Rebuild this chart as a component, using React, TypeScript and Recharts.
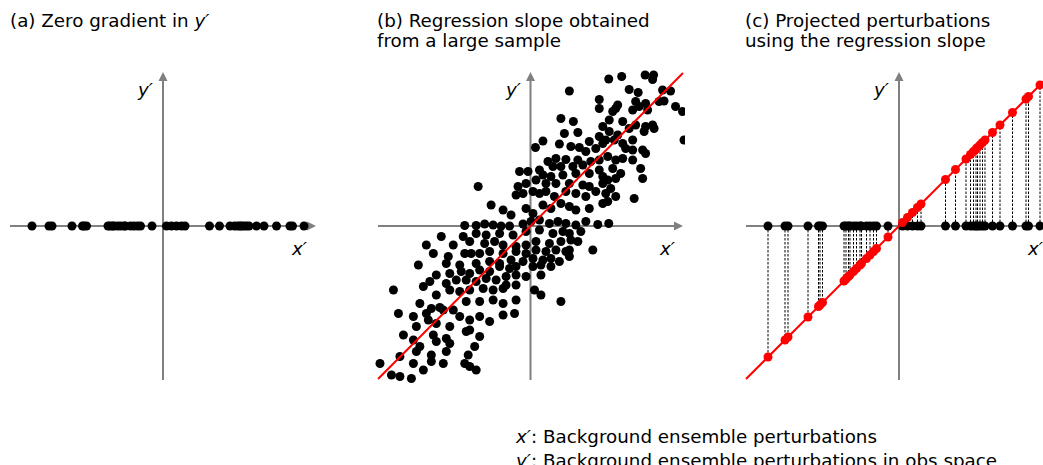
import React from 'react';
import { ScatterChart, Scatter, XAxis, YAxis } from 'recharts';

// x' values of the ensemble perturbations (panels a and c)
const perturbX = [
  -2.62, -2.28, -2.22, -1.82, -1.61, -1.58, -1.53,
  -1.1, -1.06, -1.01, -0.98, -0.91, -0.85, -0.78, -0.75, -0.65, -0.58, -0.51, -0.45,
  -0.22, 0.07, 0.17, 0.27, 0.37, 0.44,
  0.93, 1.13, 1.34, 1.43, 1.49, 1.54, 1.57, 1.62, 1.67, 1.72, 1.87, 2.02, 2.27, 2.54, 2.59, 2.82,
];

// regression slope obtained from the large sample
const slope = 1.0;

// large sample (panel b): [x', y']
const sampleB: [number, number][] = [
  [1.57, 2.94], [1.83, 2.99], [2.3, 3.02], [2.45, 2.93], [2.47, 3.02], [0.78, 2.7], [1.98, 2.73],
  [2.16, 2.67], [2.65, 2.72], [2.81, 2.7], [1.38, 2.53], [1.75, 2.42], [2.11, 2.49], [2.31, 2.45],
  [2.58, 2.49], [2.68, 2.5], [1.38, 2.35], [1.65, 2.29], [1.71, 2.35], [2.05, 2.32], [2.18, 2.39],
  [2.35, 2.32], [2.91, 2.39], [3.05, 2.29], [1.58, 2.12], [1.85, 2.09], [1.45, 1.99], [1.98, 1.95],
  [2.11, 2.02], [2.31, 1.99], [2.48, 1.95], [2.28, 1.89], [2.45, 2.02], [0.61, 2.15], [0.86, 2.09],
  [1.58, 1.89], [1.75, 1.82], [1.38, 1.79], [1.51, 1.72], [1.68, 1.72], [1.85, 1.65], [2.05, 1.72],
  [1.91, 1.55], [2.25, 1.52], [2.31, 1.45], [2.05, 1.52], [0.68, 1.85], [0.95, 1.87], [1.18, 1.69],
  [0.25, 1.7], [0.1, 1.57], [0.58, 1.64], [0.81, 1.59], [0.98, 1.57], [1.11, 1.49], [1.31, 1.55],
  [1.45, 1.65], [3.08, 1.72], [0.51, 1.35], [0.71, 1.33], [0.35, 1.29], [0.18, 1.12], [0.45, 1.19],
  [0.61, 1.19], [0.85, 1.19], [0.95, 1.32], [1.05, 1.22], [1.21, 1.29], [1.38, 1.32], [1.55, 1.39],
  [1.71, 1.32], [1.85, 1.35], [2.05, 1.32], [-0.22, 1.09], [-0.05, 1.09], [0.25, 1.02], [0.41, 0.99],
  [0.65, 1.02], [0.91, 1.05], [1.18, 1.05], [1.38, 1.12], [1.65, 1.15], [1.81, 1.05], [1.45, 0.99],
  [2.21, 1.15], [2.25, 0.95], [-1.05, 0.79], [-0.25, 0.79], [-0.09, 0.85], [0.11, 0.92], [0.31, 0.85],
  [0.51, 0.85], [0.78, 0.85], [1.05, 0.82], [1.18, 0.79], [1.45, 0.85], [1.55, 0.92], [1.71, 0.95],
  [1.61, 0.75], [-0.29, 0.62], [-0.15, 0.65], [0.05, 0.69], [0.18, 0.65], [0.31, 0.69], [0.48, 0.59],
  [0.71, 0.69], [0.91, 0.65], [1.11, 0.59], [1.31, 0.69], [1.51, 0.65], [1.71, 0.59], [2.08, 0.55],
  [-0.79, 0.42], [-0.55, 0.32], [-0.39, 0.22], [-0.09, 0.35], [0.05, 0.25], [0.25, 0.42], [0.41, 0.35],
  [0.61, 0.45], [0.78, 0.39], [0.91, 0.32], [1.18, 0.35], [1.45, 0.45], [1.55, 0.49], [-1.32, 0.01],
  [-1.09, 0.01], [-0.92, 0.04], [-0.75, 0.02], [-0.59, 0.0], [-0.42, 0.0], [-0.15, 0.04], [0.01, 0.09],
  [0.18, 0.12], [0.38, 0.05], [0.55, 0.09], [0.71, 0.05], [0.91, 0.02], [1.11, 0.09], [1.35, 0.03],
  [1.57, 0.05],
  [-1.79, -0.21], [-1.35, -0.21], [-1.09, -0.15], [-0.89, -0.18], [-0.62, -0.15], [-0.35, -0.18],
  [-0.09, -0.11], [0.18, -0.08], [0.45, -0.15], [0.65, -0.11], [0.78, -0.15], [1.01, -0.11],
  [-2.09, -0.38], [-1.55, -0.38], [-1.22, -0.31], [-0.92, -0.35], [-0.72, -0.31], [-0.55, -0.38],
  [-0.29, -0.41], [-0.09, -0.38], [0.11, -0.31], [0.38, -0.35], [0.61, -0.31], [0.81, -0.28],
  [0.95, -0.31], [-1.95, -0.55], [-1.65, -0.61], [-1.32, -0.55], [-1.19, -0.55], [-1.02, -0.55],
  [-0.82, -0.51], [-0.55, -0.55], [-0.29, -0.51], [-0.09, -0.55], [0.11, -0.48], [0.31, -0.51],
  [0.51, -0.48], [0.71, -0.51], [0.78, -0.48], [1.25, -0.48], [-2.25, -0.78], [-1.69, -0.75],
  [-1.42, -0.78], [-1.09, -0.75], [-0.82, -0.71], [-0.62, -0.75], [-0.39, -0.68], [-0.15, -0.71],
  [0.05, -0.65], [0.25, -0.68], [0.41, -0.65], [0.58, -0.71], [0.78, -0.61], [-2.02, -1.11],
  [-1.89, -0.98], [-1.62, -0.95], [-1.39, -0.91], [-1.22, -0.95], [-1.02, -0.88], [-0.82, -0.91],
  [-0.62, -0.81], [-0.42, -0.85], [-0.29, -0.81], [0.05, -0.81], [0.21, -0.78], [0.41, -0.81],
  [-2.75, -1.28], [-2.15, -1.21], [-1.69, -1.15], [-1.49, -1.08], [-1.29, -1.08], [-1.09, -1.11],
  [-0.89, -1.05], [-0.69, -1.08], [-0.49, -1.01], [-0.29, -0.98], [-0.09, -1.01], [0.21, -0.98],
  [-1.89, -1.38], [-1.62, -1.28], [-1.42, -1.31], [-1.22, -1.28], [-0.95, -1.25], [-0.75, -1.28],
  [-0.55, -1.25], [-0.49, -1.18], [-0.29, -1.18], [0.08, -1.28], [0.21, -1.38], [-2.22, -1.55],
  [-1.99, -1.65], [-1.82, -1.63], [-1.55, -1.68], [-1.29, -1.51], [-1.02, -1.51], [-0.75, -1.48],
  [-0.55, -1.55], [-0.29, -1.48], [0.61, -1.51], [-2.65, -1.75], [-2.35, -1.81], [-2.09, -1.75],
  [-1.75, -1.68], [-1.42, -1.81], [-1.22, -1.88], [-1.02, -1.81], [-0.82, -1.91], [-0.55, -1.78],
  [-0.32, -1.75], [-2.29, -2.01], [-2.05, -1.88], [-1.89, -1.95], [-1.62, -2.01], [-1.22, -2.08],
  [-1.02, -2.21], [-2.55, -2.18], [-2.35, -2.28], [-1.95, -2.18], [-1.69, -2.25], [-2.22, -2.41],
  [-1.89, -2.31], [-1.62, -2.35], [-1.12, -2.41], [-1.29, -2.11], [-2.62, -2.61], [-2.29, -2.51],
  [-1.99, -2.58], [-1.69, -2.51], [-1.25, -2.58], [-3.02, -2.75], [-2.35, -2.75], [-1.99, -2.71],
  [-1.75, -2.75], [-1.32, -2.75], [-1.22, -2.81], [-1.09, -2.88], [-2.79, -2.98], [-2.62, -3.01],
  [-2.39, -3.05], [-2.15, -2.88],
];

const FONT = '"DejaVu Sans", sans-serif';
const PAD = 12;
const PW = 306;
const PH = 308;
const XD = 3.06;
const YD = 3.08;
const TOP = 72;
const AXIS = '#808080';
const CENTERS = [163, 531, 899];

const none = () => <g />;

const makeDot = (color: string, r: number) => (p: any) =>
  p.cx == null ? <g /> : <circle cx={p.cx} cy={p.cy} r={r} fill={color} />;

const Arrow = (p: any) => {
  const tip = p.payload && p.payload.tip;
  if (!tip || p.cx == null) return <g />;
  const { cx, cy } = p;
  const L = 9;
  const W = 4.5;
  if (tip === 'right')
    return <polygon points={`${cx},${cy} ${cx - L},${cy - W} ${cx - L},${cy + W}`} fill={AXIS} />;
  return <polygon points={`${cx},${cy} ${cx - W},${cy + L} ${cx + W},${cy + L}`} fill={AXIS} />;
};

const axisScatters = (k: string) => [
  <Scatter
    key={k + 'h'}
    data={[{ x: -XD, y: 0 }, { x: XD - 0.12, y: 0 }]}
    line={{ stroke: AXIS, strokeWidth: 2 }}
    shape={none}
    isAnimationActive={false}
  />,
  <Scatter
    key={k + 'v'}
    data={[{ x: 0, y: -YD }, { x: 0, y: YD - 0.12 }]}
    line={{ stroke: AXIS, strokeWidth: 2 }}
    shape={none}
    isAnimationActive={false}
  />,
  <Scatter
    key={k + 't'}
    data={[{ x: XD, y: 0, tip: 'right' }, { x: 0, y: YD, tip: 'up' }]}
    shape={Arrow}
    isAnimationActive={false}
  />,
];

function Panel({ center, clipRight, children }: { center: number; clipRight?: number; children: any }) {
  const left = center - PW / 2 - PAD;
  const w = PW + 2 * PAD;
  return (
    <div
      style={{
        position: 'absolute',
        left,
        top: TOP - PAD,
        width: clipRight ? clipRight - left : w,
        height: PH + 2 * PAD,
        overflow: 'hidden',
      }}
    >
      <ScatterChart width={w} height={PH + 2 * PAD} margin={{ top: PAD, right: PAD, bottom: PAD, left: PAD }}>
        <XAxis type="number" dataKey="x" domain={[-XD, XD]} hide />
        <YAxis type="number" dataKey="y" domain={[-YD, YD]} hide />
        {children}
      </ScatterChart>
    </div>
  );
}

const onAxis = perturbX.map((x) => ({ x, y: 0 }));
const projected = perturbX.map((x) => ({ x, y: slope * x }));
const regLine = [{ x: -XD, y: -XD * slope }, { x: XD, y: XD * slope }];
const sampleData = sampleB.map(([x, y]) => ({ x, y }));

const Ital = ({ children }: { children: any }) => <tspan fontStyle="italic">{children}</tspan>;

export default function App() {
  const fs = 18.3;
  return (
    <div
      style={{
        position: 'absolute',
        left: 0,
        top: 0,
        width: 1043,
        height: 465,
        overflow: 'hidden',
        background: '#fff',
        fontFamily: FONT,
      }}
    >
      <Panel center={CENTERS[0]}>
        {axisScatters('a')}
        <Scatter data={onAxis} shape={makeDot('#000', 4.5)} isAnimationActive={false} />
      </Panel>

      <Panel center={CENTERS[1]} clipRight={685}>
        {axisScatters('b')}
        <Scatter data={sampleData} shape={makeDot('#000', 4.5)} isAnimationActive={false} />
        <Scatter data={regLine} line={{ stroke: '#ff0000', strokeWidth: 2 }} shape={none} isAnimationActive={false} />
      </Panel>

      <Panel center={CENTERS[2]}>
        {axisScatters('c')}
        {perturbX.map((x, i) => (
          <Scatter
            key={'d' + i}
            data={[{ x, y: 0 }, { x, y: slope * x }]}
            line={{ stroke: '#000', strokeWidth: 1, strokeDasharray: '2.5 1.5' }}
            shape={none}
            isAnimationActive={false}
          />
        ))}
        <Scatter data={onAxis} shape={makeDot('#000', 4.5)} isAnimationActive={false} />
        <Scatter data={regLine} line={{ stroke: '#ff0000', strokeWidth: 2 }} shape={none} isAnimationActive={false} />
        <Scatter data={projected} shape={makeDot('#ff0000', 4.5)} isAnimationActive={false} />
      </Panel>

      <svg
        width={1043}
        height={465}
        style={{ position: 'absolute', left: 0, top: 0, pointerEvents: 'none' }}
        fontFamily={FONT}
        fontSize={fs}
        fill="#000"
      >
        <text x={10} y={27}>
          (a) Zero gradient in <Ital>y′</Ital>
        </text>
        <text x={377} y={26.5}>(b) Regression slope obtained</text>
        <text x={377} y={46.5}>from a large sample</text>
        <text x={745} y={26.5}>(c) Projected perturbations</text>
        <text x={745} y={46.5}>using the regression slope</text>

        {CENTERS.map((c, i) => (
          <g key={'lab' + i}>
            <text x={c - 25} y={96} fontStyle="italic">y′</text>
            <text x={c + 129} y={255} fontStyle="italic">x′</text>
          </g>
        ))}

        <text x={516} y={443}>
          <Ital>x′</Ital>: Background ensemble perturbations
        </text>
        <text x={516} y={467}>
          <Ital>y′</Ital>: Background ensemble perturbations in obs space
        </text>
      </svg>
    </div>
  );
}
